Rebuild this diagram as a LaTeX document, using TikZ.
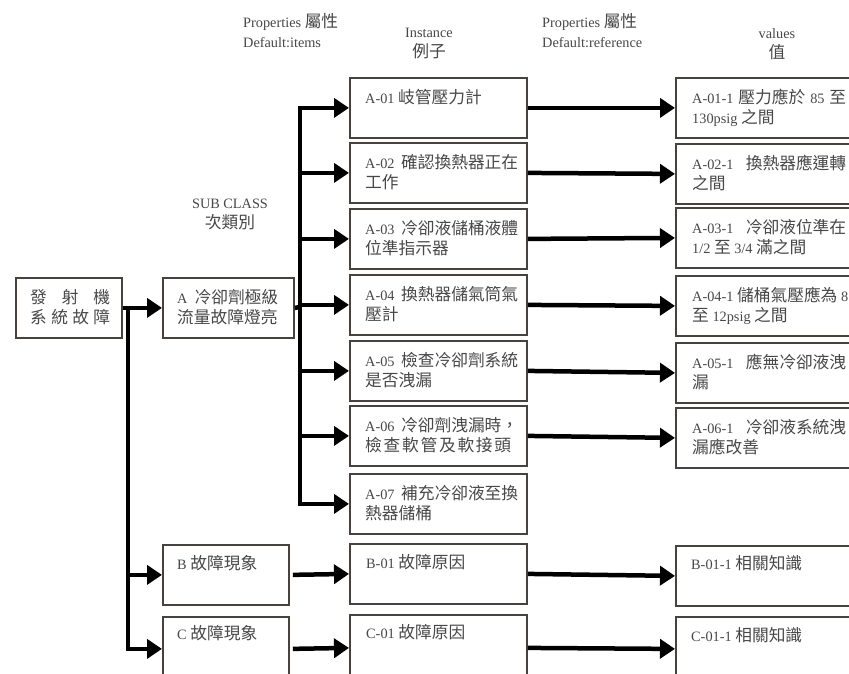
\documentclass[tikz,border=0pt]{standalone}
\usepackage{fontspec}
\setmainfont{Liberation Serif}
\newfontfamily\cjk{Noto Sans CJK TC}[Scale=1.17]
\usetikzlibrary{arrows.meta}
\newcommand\jline[2]{\hbox to #1{#2}}
\newcommand\twoline[2]{\vtop{\baselineskip=20pt\hbox{#1}\hbox{#2}}}
\newcommand\twolinec[2]{\vtop{\baselineskip=20pt\halign{\hfil##\hfil\cr #1\cr #2\cr}}}
\definecolor{edge}{RGB}{72,66,62}
\definecolor{ink}{RGB}{72,72,72}
\begin{document}
\begin{tikzpicture}[x=1pt,y=-1pt,
  box/.style={draw=edge, line width=1.8pt, rectangle, inner sep=0pt, anchor=north west, minimum height=60pt},
  txt/.style={anchor=base west, inner sep=0pt, text=ink, font=\fontsize{14.3}{20}\selectfont},
  hdr/.style={anchor=base, inner sep=0pt, text=ink, font=\fontsize{14.3}{20}\selectfont},
  arr/.style={line width=4.5pt, -{Triangle[length=15pt,width=19pt]}},
  ln/.style={line width=4.5pt}]
\useasboundingbox (0,0) rectangle (849,673);
\fill[white] (0,0) rectangle (849,673);

% headers
\node[txt] (h1) at (243,27) {\twoline{Properties {\cjk 屬性}}{Default:items}};
\node[hdr] (h2) at (429,37) {\twolinec{Instance}{\cjk 例子}};
\node[txt] (h3) at (542,27) {\twoline{Properties {\cjk 屬性}}{Default:reference}};
\node[hdr] (h4) at (777,38) {\twolinec{values}{\cjk 值}};
\node[hdr] (h5) at (230,208) {\twolinec{SUB CLASS}{\cjk 次類別}};

% left boxes
\node[box, minimum width=106pt] (root) at (15,277) {};
\node[box, minimum width=131pt] (A) at (162,277) {};
\node[box, minimum width=126pt] (B) at (162,544) {};
\node[box, minimum width=126pt, minimum height=64pt] (C) at (162,616) {};

\node[txt] (roott) at ([shift={(15,26)}]root.north west)
  {\twoline{\jline{80pt}{\cjk 發\hfil 射\hfil 機}}{\jline{80pt}{\cjk 系\hfil 統\hfil 故\hfil 障}}};
\node[txt] (At) at ([shift={(15,26)}]A.north west)
  {\twoline{\jline{101pt}{A {\cjk 冷卻劑極級}}}{\cjk 流量故障燈亮}};
\node[txt] (Bt) at ([shift={(15,25)}]B.north west) {B {\cjk 故障現象}};
\node[txt] (Ct) at ([shift={(15,23)}]C.north west) {C {\cjk 故障現象}};

% instance boxes
\node[box, minimum width=177pt] (a1) at (349,77) {};
\node[box, minimum width=177pt] (a2) at (349,142) {};
\node[box, minimum width=177pt] (a3) at (349,208) {};
\node[box, minimum width=177pt] (a4) at (349,274) {};
\node[box, minimum width=177pt] (a5) at (349,340) {};
\node[box, minimum width=177pt] (a6) at (349,405) {};
\node[box, minimum width=177pt] (a7) at (349,473) {};
\node[box, minimum width=177pt] (b1) at (349,543) {};
\node[box, minimum width=177pt, minimum height=66pt] (c1) at (349,614) {};

\node[txt] (a1t) at ([shift={(16,26)}]a1.north west) {A-01 {\cjk 岐管壓力計}};
\node[txt] (a2t) at ([shift={(16,26)}]a2.north west) {\twoline{\jline{153pt}{A-02 {\cjk 確認換熱器正在}}}{\cjk 工作}};
\node[txt] (a3t) at ([shift={(16,26)}]a3.north west) {\twoline{\jline{153pt}{A-03 {\cjk 冷卻液儲桶液體}}}{\cjk 位準指示器}};
\node[txt] (a4t) at ([shift={(16,26)}]a4.north west) {\twoline{\jline{153pt}{A-04 {\cjk 換熱器儲氣筒氣}}}{\cjk 壓計}};
\node[txt] (a5t) at ([shift={(16,26)}]a5.north west) {\twoline{\jline{153pt}{A-05 {\cjk 檢查冷卻劑系統}}}{\cjk 是否洩漏}};
\node[txt] (a6t) at ([shift={(16,26)}]a6.north west) {\twoline{\jline{153pt}{A-06 {\cjk 冷卻劑洩漏時，}}}{\jline{146pt}{\cjk 檢\hfil 查\hfil 軟\hfil 管\hfil 及\hfil 軟\hfil 接\hfil 頭}}};
\node[txt] (a7t) at ([shift={(16,26)}]a7.north west) {\twoline{\jline{153pt}{A-07 {\cjk 補充冷卻液至換}}}{\cjk 熱器儲桶}};
\node[txt] (b1t) at ([shift={(17,25)}]b1.north west) {B-01 {\cjk 故障原因}};
\node[txt] (c1t) at ([shift={(17,24)}]c1.north west) {C-01 {\cjk 故障原因}};

% value boxes
\node[box, minimum width=190pt] (v1) at (675,77) {};
\node[box, minimum width=190pt] (v2) at (675,143) {};
\node[box, minimum width=190pt] (v3) at (675,207) {};
\node[box, minimum width=190pt] (v4) at (675,275) {};
\node[box, minimum width=190pt] (v5) at (675,342) {};
\node[box, minimum width=190pt] (v6) at (675,407) {};
\node[box, minimum width=190pt] (vb) at (675,545) {};
\node[box, minimum width=190pt, minimum height=64pt] (vc) at (675,616) {};

\node[txt] (v1t) at ([shift={(17,26)}]v1.north west) {\twoline{\jline{154pt}{A-01-1 {\cjk 壓力應於} 85 {\cjk 至}}}{130psig {\cjk 之間}}};
\node[txt] (v2t) at ([shift={(17,26)}]v2.north west) {\twoline{\jline{154pt}{A-02-1 {\cjk 換熱器應運轉}}}{\cjk 之間}};
\node[txt] (v3t) at ([shift={(17,26)}]v3.north west) {\twoline{\jline{154pt}{A-03-1 {\cjk 冷卻液位準在}}}{1/2 {\cjk 至} 3/4 {\cjk 滿之間}}};
\node[txt] (v4t) at ([shift={(17,26)}]v4.north west) {\twoline{\jline{156pt}{A-04-1 {\cjk 儲桶氣壓應為} 8}}{{\cjk 至} 12psig {\cjk 之間}}};
\node[txt] (v5t) at ([shift={(17,26)}]v5.north west) {\twoline{\jline{154pt}{A-05-1 {\cjk 應無冷卻液洩}}}{\cjk 漏}};
\node[txt] (v6t) at ([shift={(17,26)}]v6.north west) {\twoline{\jline{154pt}{A-06-1 {\cjk 冷卻液系統洩}}}{\cjk 漏應改善}};
\node[txt] (vbt) at ([shift={(16,24)}]vb.north west) {B-01-1 {\cjk 相關知識}};
\node[txt] (vct) at ([shift={(16,25)}]vc.north west) {C-01-1 {\cjk 相關知識}};

% connectors
\coordinate (t1) at (128,307);
\coordinate (t2) at (300,307);
\draw[arr] (root.east) -- (A.west);
\draw[arr] (t1) |- (B.west);
\draw[arr] (t1) |- (C.west);
\draw[ln] (A.east) -- (t2);
\foreach \n in {a1,a2,a3,a4,a5,a6,a7} \draw[arr] (t2) |- (\n.west);
\foreach \s/\t in {a1/v1,a2/v2,a3/v3,a4/v4,a5/v5,a6/v6,b1/vb,c1/vc} \draw[arr] (\s.east) -- (\t.west);
\draw[arr, shorten <=3pt] (B.east) -- (b1.west);
\draw[arr, shorten <=3pt] (C.east) -- (c1.west);
\end{tikzpicture}
\end{document}
